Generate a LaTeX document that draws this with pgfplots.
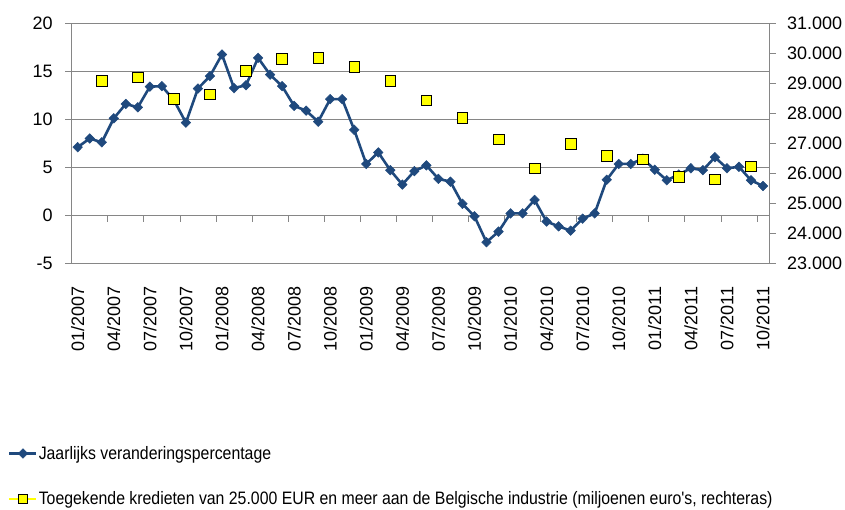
\documentclass[border=0pt]{standalone}
\usepackage{pgfplots}
\pgfplotsset{compat=1.18}
\usepackage{pgfplotstable}
\usepackage{fontspec}
\setmainfont{Liberation Sans}
\newfontfamily\narrowfont[FakeStretch=0.88]{Liberation Sans}
\definecolor{lineblue}{RGB}{31,73,125}
\definecolor{gridgray}{RGB}{134,134,134}
\definecolor{mkyellow}{RGB}{255,255,0}

\pgfplotstableread{
idx val
0 7.1
1 8.0
2 7.6
3 10.1
4 11.6
5 11.25
6 13.4
7 13.45
8 12.0
9 9.65
10 13.2
11 14.5
12 16.75
13 13.25
14 13.55
15 16.4
16 14.65
17 13.45
18 11.4
19 10.9
20 9.75
21 12.1
22 12.1
23 8.9
24 5.35
25 6.55
26 4.7
27 3.2
28 4.6
29 5.2
30 3.8
31 3.5
32 1.2
33 -0.1
34 -2.8
35 -1.7
36 0.2
37 0.2
38 1.6
39 -0.65
40 -1.15
41 -1.6
42 -0.35
43 0.2
44 3.7
45 5.35
46 5.35
47 5.9
48 4.75
49 3.65
50 4.25
51 4.9
52 4.7
53 6.05
54 4.9
55 5.05
56 3.65
57 3.05
}\pctdata

\pgfplotstableread{
idx val
2 29080
5 29200
8 28490
11 28640
14 29420
17 29810
20 29850
23 29550
26 29080
29 28440
32 27850
35 27130
38 26170
41 26980
44 26590
47 26470
50 25890
53 25800
56 26240
}\kreddata

\begin{document}
\begin{tikzpicture}
\path[use as bounding box] (0pt,0pt) rectangle (845pt,509pt);
\begin{axis}[
  at={(71.7pt,245.7pt)}, anchor=south west,
  scale only axis, width=697.3pt, height=240pt,
  xmin=-0.5, xmax=57.5, ymin=-5, ymax=20,
  axis x line*=bottom, axis y line*=left,
  x axis line style={-}, y axis line style={-},
  axis line style={gridgray, line width=0.8pt},
  ytick={-5,0,...,20},
  ymajorgrids, grid style={gridgray, line width=0.8pt},
  tick align=outside, major tick length=6.5pt,
  ytick style={gridgray, line width=0.8pt},
  xtick={0,3,...,57},
  xticklabels={01/2007,04/2007,07/2007,10/2007,01/2008,04/2008,07/2008,10/2008,01/2009,04/2009,07/2009,10/2009,01/2010,04/2010,07/2010,10/2010,01/2011,04/2011,07/2011,10/2011},
  xtick style={draw=none},
  tick label style={font=\fontsize{18}{20}\selectfont, black},
  xticklabel style={rotate=90, anchor=east, xshift=-13pt},
  yticklabel style={xshift=-9pt},
  /pgf/number format/assume math mode=true,
  clip=false,
  legend cell align=left,
  legend style={at={(axis description cs:-0.0914,-0.757)}, anchor=north west,
    draw=none, fill=none, inner sep=0pt, row sep=29pt,
    font=\narrowfont\fontsize{18}{20}\selectfont,
    nodes={inner sep=1pt}},
  legend image code/.code={\draw[#1, mark repeat=2, mark phase=2] plot coordinates {(0pt,0pt) (13.5pt,0pt) (27pt,0pt)};},
]
\pgfplotsinvokeforeach{2.5,5.5,8.5,11.5,14.5,17.5,20.5,23.5,26.5,29.5,32.5,35.5,38.5,41.5,44.5,47.5,50.5,53.5,56.5}{
  \draw[gridgray, line width=0.8pt] (axis cs:#1,0) -- ++(0pt,-6.5pt);
}
\addplot[lineblue, line width=2.6pt, mark=diamond*, mark size=4.8pt,
  mark options={xscale=1.33, fill=lineblue, draw=lineblue, line width=0.5pt, solid}]
  table[x=idx, y=val] {\pctdata};
\addlegendentry{Jaarlijks veranderingspercentage}
\addlegendimage{mkyellow, line width=2.6pt, mark=square*, mark size=4.5pt,
  mark options={fill=mkyellow, draw=black, line width=0.6pt, solid}}
\addlegendentry{Toegekende kredieten van 25.000 EUR en meer aan de Belgische industrie (miljoenen euro's, rechteras)}
\end{axis}
\begin{axis}[
  at={(71.7pt,245.7pt)}, anchor=south west,
  scale only axis, width=697.3pt, height=240pt,
  xmin=-0.5, xmax=57.5, ymin=23000, ymax=31000,
  axis x line=none, axis y line*=right,
  y axis line style={-},
  axis line style={gridgray, line width=0.8pt},
  scaled y ticks=false,
  ytick={23000,24000,...,31000},
  yticklabels={23.000,24.000,25.000,26.000,27.000,28.000,29.000,30.000,31.000},
  tick align=outside, major tick length=6.5pt,
  ytick style={gridgray, line width=0.8pt},
  tick label style={font=\fontsize{18}{20}\selectfont, black},
  yticklabel style={xshift=8pt},
  clip=false,
]
\addplot[only marks, mark=square*, mark size=5.3pt,
  mark options={fill=mkyellow, draw=black, line width=0.6pt}]
  table[x=idx, y=val] {\kreddata};
\end{axis}
\end{tikzpicture}
\end{document}
